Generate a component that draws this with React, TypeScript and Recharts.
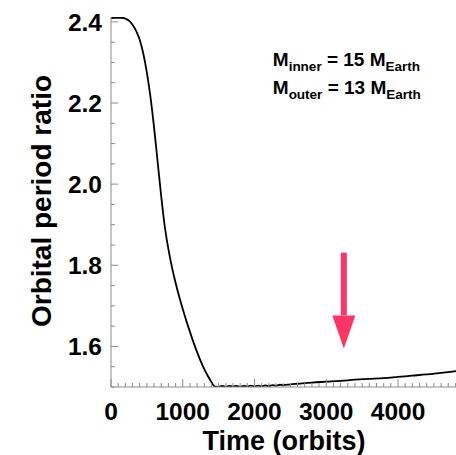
import React from 'react';
import { LineChart, Line, XAxis, YAxis, ReferenceLine, ReferenceDot, Label } from 'recharts';

const timeOrbits = [
  0, 50, 100, 150, 200, 250, 300, 350, 400, 450, 500, 550, 600, 650, 700, 750, 800, 850, 900, 950,
  1000, 1050, 1100, 1150, 1200, 1250, 1300, 1350, 1400, 1425, 1450,
  1500, 1550, 1600, 1650, 1700, 1750, 1800, 1850, 1900, 1950, 2000, 2050, 2100, 2150, 2200, 2250, 2300, 2350, 2400,
  2500, 2600, 2800, 3000, 3200, 3400, 3600, 3800, 4000, 4200, 4400, 4600, 4850,
];
const periodRatio = [
  2.409, 2.410, 2.410, 2.410, 2.408, 2.403, 2.393, 2.378, 2.356, 2.322, 2.275, 2.215, 2.140, 2.055, 1.970, 1.895, 1.840, 1.795, 1.757, 1.723,
  1.692, 1.663, 1.636, 1.610, 1.586, 1.564, 1.544, 1.527, 1.512, 1.505, 1.5008,
  1.5005, 1.5025, 1.5005, 1.503, 1.501, 1.503, 1.5005, 1.503, 1.501, 1.5035, 1.5015, 1.5035, 1.5015, 1.504, 1.502, 1.5045, 1.503, 1.5055, 1.5045,
  1.5065, 1.508, 1.511, 1.513, 1.515, 1.518, 1.520, 1.522, 1.525, 1.528, 1.531, 1.535, 1.540,
];

const xTicks = [
  0, 100, 200, 300, 400, 500, 600, 700, 800, 900, 1000, 1100, 1200, 1300, 1400, 1500, 1600, 1700, 1800, 1900,
  2000, 2100, 2200, 2300, 2400, 2500, 2600, 2700, 2800, 2900, 3000, 3100, 3200, 3300, 3400, 3500, 3600, 3700,
  3800, 3900, 4000, 4100, 4200, 4300, 4400, 4500, 4600, 4700, 4800,
];
const xMajor = [0, 1000, 2000, 3000, 4000];
const yTicks = [1.5, 1.55, 1.6, 1.65, 1.7, 1.75, 1.8, 1.85, 1.9, 1.95, 2.0, 2.05, 2.1, 2.15, 2.2, 2.25, 2.3, 2.35, 2.4];
const yMajor = [1.6, 1.8, 2.0, 2.2, 2.4];
const yMajorLabels = ['1.6', '1.8', '2.0', '2.2', '2.4'];

const xDomain = [0, 4850];
const yDomain = [1.5, 2.412];

const arrowX = 3245;
const arrowTop = 1.831;
const arrowHeadBase = 1.677;
const arrowTip = 1.595;

const noteX = 2255;
const noteY = 2.2906;

const data = timeOrbits.map((t, i) => ({ t, r: periodRatio[i] }));

const FONT = '"Liberation Sans", Arial, Helvetica, sans-serif';
const GRAY = '#8c8c8c';
const PINK = '#FF3366';

const BottomTick = (props: any) => {
  const { x, y, payload } = props;
  const v = payload.value;
  const major = xMajor.includes(v);
  return (
    <g>
      <line x1={x} x2={x} y1={y} y2={y - (major ? 8 : 4)} stroke={GRAY} strokeWidth={1} />
      {major && (
        <text x={x} y={y + 33} textAnchor="middle" fontFamily={FONT} fontWeight="bold" fontSize={24.5} fill="#000">
          {String(v)}
        </text>
      )}
    </g>
  );
};

const TopTick = (props: any) => {
  const { x, y, payload } = props;
  const major = xMajor.includes(payload.value);
  return <line x1={x} x2={x} y1={y} y2={y + (major ? 8 : 4)} stroke={GRAY} strokeWidth={1} />;
};

const LeftTick = (props: any) => {
  const { x, y, payload } = props;
  const idx = yMajor.indexOf(payload.value);
  const major = idx >= 0;
  return (
    <g>
      <line x1={x} x2={x + (major ? 7 : 4)} y1={y} y2={y} stroke={GRAY} strokeWidth={1} />
      {major && (
        <text x={x - 9} y={y} dy="0.36em" textAnchor="end" fontFamily={FONT} fontWeight="bold" fontSize={24.5} fill="#000">
          {yMajorLabels[idx]}
        </text>
      )}
    </g>
  );
};

const RightTick = (props: any) => {
  const { x, y, payload } = props;
  const major = yMajor.includes(payload.value);
  return <line x1={x} x2={x - (major ? 7 : 4)} y1={y} y2={y} stroke={GRAY} strokeWidth={1} />;
};

const XTitle = (props: any) => {
  const vb = props.viewBox || {};
  return (
    <text x={vb.x + vb.width / 2 - 1} y={vb.y + 63} textAnchor="middle" fontFamily={FONT} fontWeight="bold" fontSize={27} fill="#000">
      Time (orbits)
    </text>
  );
};

const YTitle = (props: any) => {
  const vb = props.viewBox || {};
  const cx = vb.x + 51;
  const cy = vb.y + vb.height / 2 - 1;
  return (
    <text transform={`translate(${cx},${cy}) rotate(-90)`} textAnchor="middle" fontFamily={FONT} fontWeight="bold" fontSize={28} fill="#000">
      Orbital period ratio
    </text>
  );
};

const ArrowHead = (props: any) => {
  const { cx, cy } = props;
  return <polygon points={`${cx - 11.5},${cy - 33} ${cx + 11.5},${cy - 33} ${cx},${cy}`} fill={PINK} />;
};

const Note = (props: any) => {
  const { cx, cy } = props;
  const big = 19;
  const small = 13.5;
  return (
    <g fontFamily={FONT} fontWeight="bold" fill="#000">
      <text x={cx} y={cy} fontSize={big}>
        M<tspan fontSize={small} dy={5}>inner</tspan>
        <tspan dy={-5}> = 15 M</tspan>
        <tspan fontSize={small} dy={5}>Earth</tspan>
      </text>
      <text x={cx} y={cy + 27.3} fontSize={big}>
        M<tspan fontSize={small} dy={5}>outer</tspan>
        <tspan dy={-5}> = 13 M</tspan>
        <tspan fontSize={small} dy={5}>Earth</tspan>
      </text>
    </g>
  );
};

export default function App() {
  return (
    <div style={{ position: 'absolute', left: 0, top: 0, width: 456, height: 455, overflow: 'hidden', background: '#fff' }}>
      <LineChart width={459} height={455} data={data} margin={{ top: 17, right: 0, bottom: 0, left: 0 }}>
        <XAxis
          dataKey="t"
          type="number"
          domain={xDomain}
          allowDataOverflow
          ticks={xTicks}
          interval={0}
          tickSize={0}
          tickMargin={0}
          tickLine={false}
          tick={<BottomTick />}
          axisLine={{ stroke: GRAY }}
          height={68}
        >
          <Label content={<XTitle />} />
        </XAxis>
        <XAxis
          xAxisId="top"
          orientation="top"
          dataKey="t"
          type="number"
          domain={xDomain}
          allowDataOverflow
          ticks={xTicks}
          interval={0}
          tickSize={0}
          tickMargin={0}
          tickLine={false}
          tick={<TopTick />}
          axisLine={{ stroke: GRAY }}
          height={0}
        />
        <YAxis
          type="number"
          domain={yDomain}
          allowDataOverflow
          ticks={yTicks}
          interval={0}
          tickSize={0}
          tickMargin={0}
          tickLine={false}
          tick={<LeftTick />}
          axisLine={{ stroke: GRAY }}
          width={111}
        >
          <Label content={<YTitle />} />
        </YAxis>
        <YAxis
          yAxisId="right"
          orientation="right"
          type="number"
          domain={yDomain}
          allowDataOverflow
          ticks={yTicks}
          interval={0}
          tickSize={0}
          tickMargin={0}
          tickLine={false}
          tick={<RightTick />}
          axisLine={{ stroke: GRAY }}
          width={0}
        />
        <Line
          dataKey="r"
          type="monotone"
          stroke="#000"
          strokeWidth={1.8}
          dot={false}
          isAnimationActive={false}
        />
        <ReferenceLine
          segment={[{ x: arrowX, y: arrowTop }, { x: arrowX, y: arrowHeadBase }]}
          stroke={PINK}
          strokeWidth={6}
        />
        <ReferenceDot x={arrowX} y={arrowTip} r={0} shape={<ArrowHead />} />
        <ReferenceDot x={noteX} y={noteY} r={0} shape={<Note />} />
      </LineChart>
    </div>
  );
}
